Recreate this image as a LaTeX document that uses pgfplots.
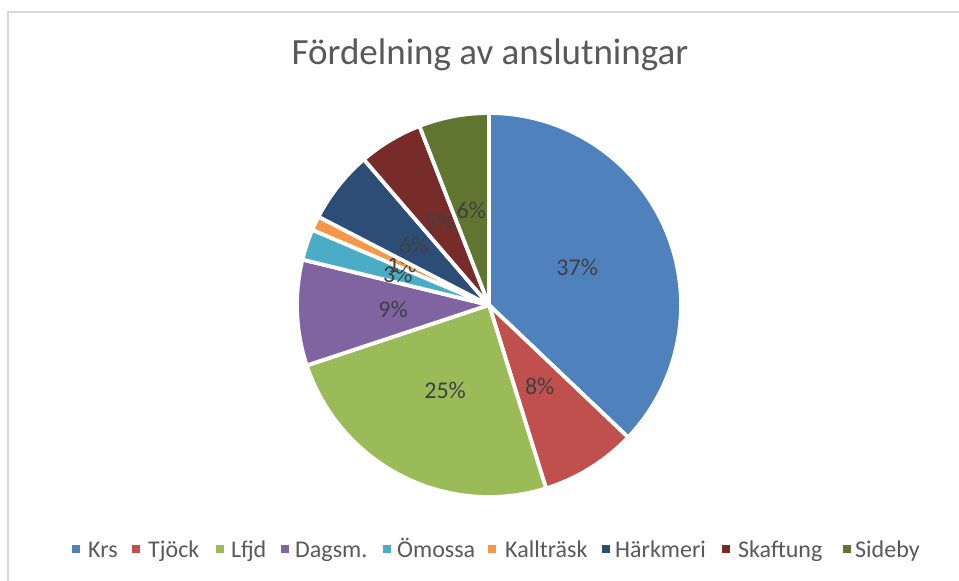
\documentclass[border=0pt]{standalone}
\usepackage{fontspec}
\setmainfont{Carlito}
\usepackage{pgfplots}
\pgfplotsset{compat=1.18}
\usepgfplotslibrary{polar}
\definecolor{cKrs}{HTML}{4F81BD}
\definecolor{cTjo}{HTML}{C0504D}
\definecolor{cLfj}{HTML}{9BBB59}
\definecolor{cDag}{HTML}{8064A2}
\definecolor{cOmo}{HTML}{4BACC6}
\definecolor{cKal}{HTML}{F79646}
\definecolor{cHar}{HTML}{2C4D75}
\definecolor{cSka}{HTML}{772C2A}
\definecolor{cSid}{HTML}{5F7530}
\definecolor{labelgray}{HTML}{404040}
\definecolor{textgray}{HTML}{595959}
\definecolor{framegray}{HTML}{D9D9D9}
\newcommand\labelfont{\fontsize{24bp}{28bp}\selectfont}
\newcommand\cum{0}
\newcommand\slice[2]{%
  \pgfmathsetmacro\sa{90-3.6*\cum}%
  \pgfmathsetmacro\newcum{\cum+#1}%
  \xdef\cum{\newcum}%
  \pgfmathsetmacro\sb{90-3.6*\cum}%
  \pgfmathsetmacro\sm{(\sa+\sb)/2}%
  \pgfmathtruncatemacro\pct{round(#1)}%
  \edef\doit{\noexpand\addplot[fill=#2, draw=white, line width=3.8bp, line join=round, domain=\sb:\sa, samples=80] {1} -- (axis cs:0,0) -- cycle;
    \noexpand\node[font=\noexpand\labelfont, text=labelgray, inner sep=0pt] at (axis cs:\sm,0.5) {\pct\%};}%
  \doit
}
\begin{document}
\begin{tikzpicture}
\path[use as bounding box, fill=white] (0,0) rectangle (959bp,581bp);
\draw[framegray, line width=1.5bp] (8bp,0) -- (8bp,569bp) -- (959bp,569bp);
\node[font=\fontsize{37bp}{41bp}\selectfont, text=textgray, anchor=base, inner sep=0pt] at (490bp,516bp) {Fördelning av anslutningar};
\begin{polaraxis}[
  at={(489bp,276bp)}, anchor=center,
  width=384bp, height=384bp, scale only axis,
  hide axis, clip=false,
  xmin=0, xmax=360, ymin=0, ymax=1,
]
\slice{37.1}{cKrs}
\slice{8.1}{cTjo}
\slice{24.7}{cLfj}
\slice{8.9}{cDag}
\slice{2.6}{cOmo}
\slice{1.2}{cKal}
\slice{6.1}{cHar}
\slice{5.4}{cSka}
\slice{5.9}{cSid}
\end{polaraxis}
\foreach \xs/\xt/\c/\n in {72/88/cKrs/Krs, 132/148/cTjo/Tjöck, 216/231/cLfj/Lfjd, 281/295/cDag/Dagsm., 383/397/cOmo/Ömossa, 488/505/cKal/Kallträsk, 602/615/cHar/Härkmeri, 722/738/cSka/Skaftung, 843/855/cSid/Sideby}{
  \fill[\c] (\xs bp,28bp) rectangle ++(8bp,8bp);
  \node[font=\labelfont, text=textgray, anchor=base west, inner sep=0pt] at (\xt bp,24bp) {\n};
}
\end{tikzpicture}
\end{document}
